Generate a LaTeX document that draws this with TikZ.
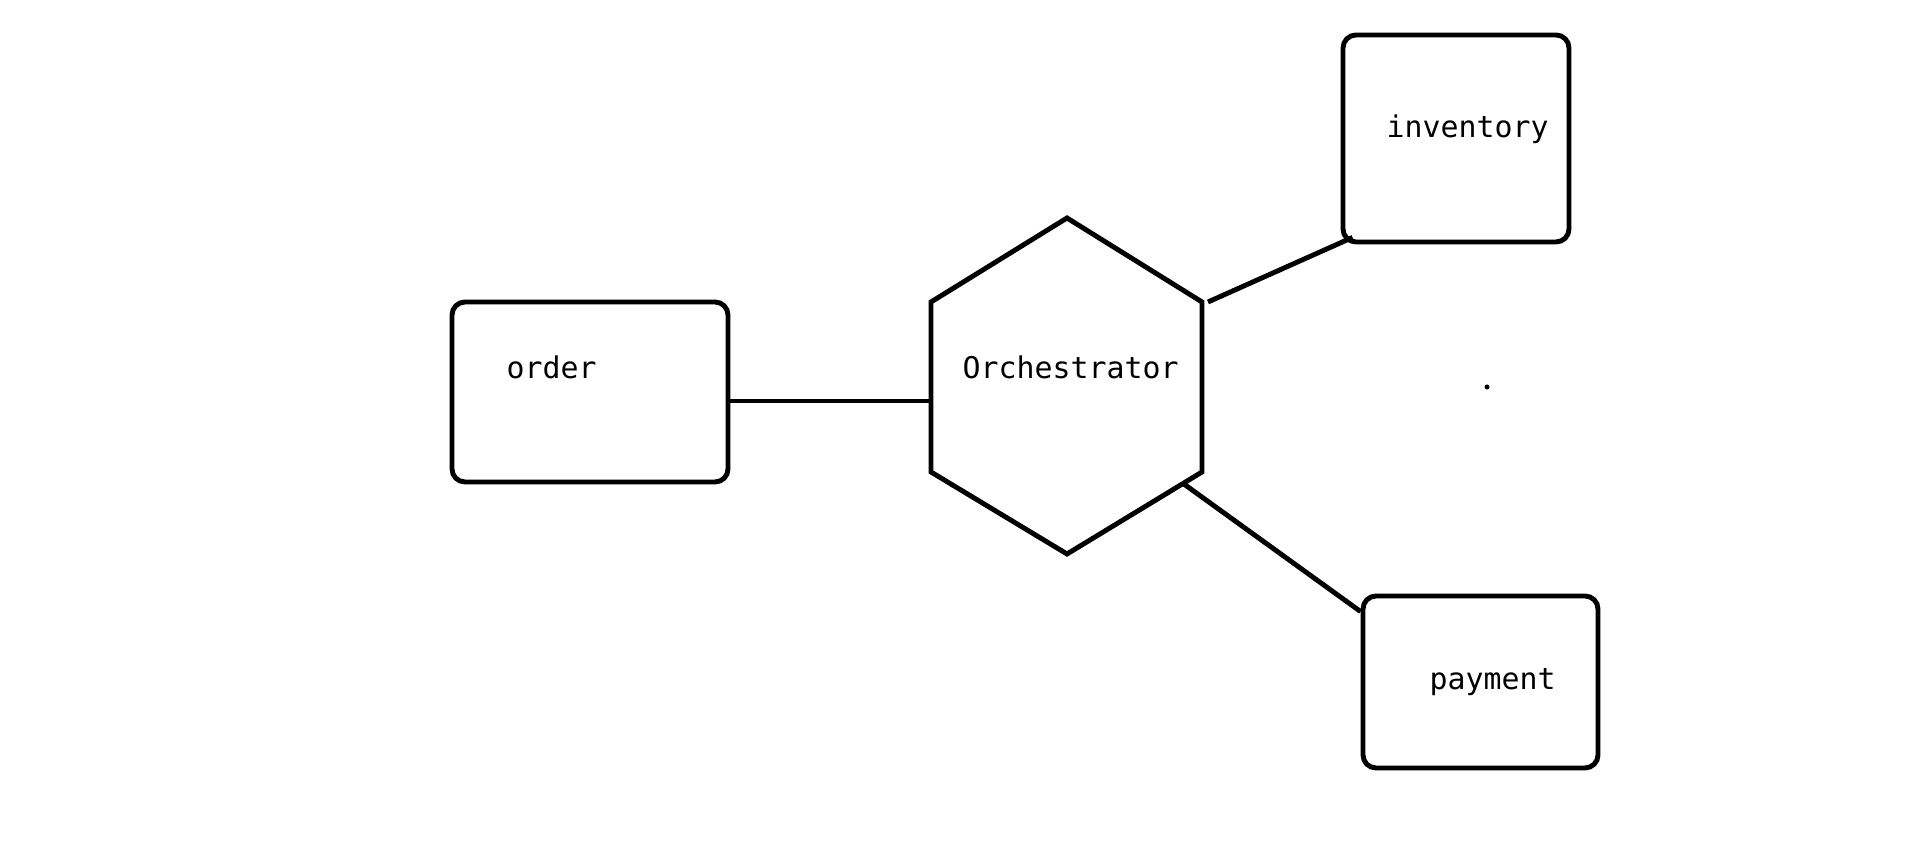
\documentclass[tikz,border=0pt]{standalone}
\usepackage{fontspec}
\setmonofont{DejaVu Sans Mono}
\usepackage{tikz}
\usetikzlibrary{calc}

\begin{document}
\begin{tikzpicture}[
  svc/.style={draw, line width=1.4pt, rounded corners=0.13cm, rectangle},
  lbl/.style={anchor=base west, inner sep=0pt, font=\ttfamily\fontsize{8.5}{10}\selectfont},
  link/.style={line width=1.4pt}
]
\useasboundingbox (0,0) rectangle (19.14,8.61);
\node[svc, minimum width=2.76cm, minimum height=1.80cm] (order) at (5.90,4.69) {};
\node[svc, minimum width=2.26cm, minimum height=2.07cm] (inventory) at (14.56,7.225) {};
\node[svc, minimum width=2.35cm, minimum height=1.72cm] (payment) at (14.805,1.79) {};
\coordinate (hn) at (10.67,6.43);
\coordinate (hne) at (12.02,5.59);
\coordinate (hse) at (12.02,3.89);
\coordinate (hs) at (10.67,3.07);
\coordinate (hsw) at (9.31,3.89);
\coordinate (hnw) at (9.31,5.59);
\draw[link, line join=miter] (hn) -- (hne) -- (hse) -- (hs) -- (hsw) -- (hnw) -- cycle;
\node[lbl] (orderlbl) at (5.06,4.82) {order};
\node[lbl] (orchlbl) at (9.62,4.82) {Orchestrator};
\node[lbl] (invlbl) at (13.86,7.23) {inventory};
\node[lbl] (paylbl) at (14.29,1.71) {payment};
\draw[link] ([yshift=-0.09cm]order.east) -- ([yshift=-0.09cm]order.east -| hsw);
\draw[link] ([xshift=0.06cm]hne) -- ([xshift=0.12cm,yshift=0.07cm]inventory.south west);
\draw[link] ($(hse)!0.14!(hs)$) -- ([yshift=-0.18cm]payment.north west);
\fill (14.87,4.74) circle (0.025);
\end{tikzpicture}
\end{document}
